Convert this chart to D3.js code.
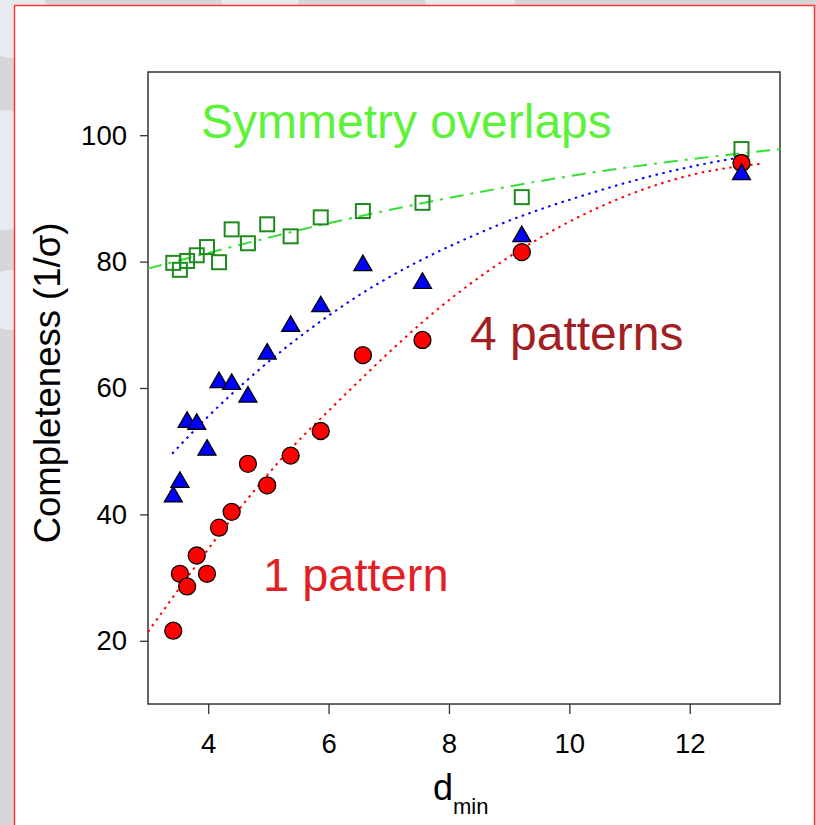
<!DOCTYPE html>
<html>
<head>
<meta charset="utf-8">
<script src="https://cdn.jsdelivr.net/npm/d3@7"></script>
<style>
  body { margin: 0; background: #d8d8d8; }
  svg { display: block; font-family: "Liberation Sans", Arial, sans-serif; }
</style>
</head>
<body>
<svg width="816" height="825"></svg>
<script>
// measured values
const dMin = [3.42, 3.53, 3.65, 3.81, 3.98, 4.18, 4.39, 4.66, 4.98, 5.37, 5.87, 6.57, 7.56, 9.21, 12.86];
const onePattern = [21.6, 30.6, 28.6, 33.5, 30.6, 37.9, 40.4, 48.0, 44.6, 49.3, 53.2, 65.2, 67.6, 81.5, 95.6];
const fourPatterns = [43.0, 45.3, 54.8, 54.5, 50.4, 61.1, 60.8, 58.8, 65.6, 70.0, 73.1, 79.6, 76.8, 84.2, 94.0];
const symOverlaps = [79.8, 78.7, 80.1, 81.0, 82.3, 79.9, 85.1, 82.9, 85.9, 84.0, 87.0, 88.0, 89.3, 90.2, 97.8];

// fitted curves
const redFitX = [3.0, 4.53, 5.19, 6.13, 8.04, 10.45, 12.16, 13.2];
const redFitY = [21.4, 41.0, 48.5, 57.6, 74.2, 88.4, 94.0, 95.5];
const blueFitX = [3.4, 4.0, 4.97, 6.3, 8.62, 10.45, 12.16, 12.85];
const blueFitY = [49.6, 55.5, 63.9, 73.4, 85.0, 91.1, 95.3, 96.5];
const greenFitX = [3.0, 4.22, 5.52, 8.23, 10.39, 13.5];
const greenFitY = [78.9, 81.9, 85.0, 90.5, 94.1, 97.8];

const xTicks = [4, 6, 8, 10, 12];
const yTicks = [20, 40, 60, 80, 100];

const svg = d3.select("svg");

// slide background
const bg = svg.append("g");
bg.append("rect").attr("width", 816).attr("height", 825).attr("fill", "#d6d6d6");
[[12, 20, 38], [5, 170, 60], [10, 300, 30], [260, -10, 40], [470, -20, 50], [360, -30, 30]].forEach(c => {
  bg.append("circle").attr("cx", c[0]).attr("cy", c[1]).attr("r", c[2]).attr("fill", "#e7eaee");
});
bg.append("rect")
  .attr("x", 14.5).attr("y", 5.5).attr("width", 800).attr("height", 840)
  .attr("fill", "#fff").attr("stroke", "#ff3a3a").attr("stroke-width", 1.5);

const x = d3.scaleLinear().domain([3, 13.5]).range([148, 780]);
const y = d3.scaleLinear().domain([10, 110]).range([704, 72]);

// frame
svg.append("rect")
  .attr("x", x(3)).attr("y", y(110))
  .attr("width", x(13.5) - x(3)).attr("height", y(10) - y(110))
  .attr("fill", "none").attr("stroke", "#333").attr("stroke-width", 1.5);

const xAxis = svg.append("g")
  .attr("transform", `translate(0,${y(10)})`)
  .call(d3.axisBottom(x).tickValues(xTicks).tickSize(10).tickPadding(19));
const yAxis = svg.append("g")
  .attr("transform", `translate(${x(3)},0)`)
  .call(d3.axisLeft(y).tickValues(yTicks).tickSize(8).tickPadding(13));
[xAxis, yAxis].forEach(a => {
  a.select(".domain").remove();
  a.selectAll("line").attr("stroke", "#333").attr("stroke-width", 1.3);
  a.selectAll("text").attr("font-size", 27.5).attr("fill", "#000")
    .attr("font-family", "'Liberation Sans', Arial, sans-serif");
});

// axis titles
svg.append("text")
  .attr("transform", `translate(60,383) rotate(-90)`)
  .attr("text-anchor", "middle")
  .attr("font-size", 36.5)
  .text("Completeness (1/σ)");

const xt = svg.append("text")
  .attr("x", 433).attr("y", 800)
  .attr("font-size", 36);
xt.append("tspan").text("d");
xt.append("tspan").attr("font-size", 22).attr("dy", 14).text("min");

// fit lines
const line = d3.line().x(d => x(d[0])).y(d => y(d[1])).curve(d3.curveMonotoneX);
const fits = [
  { xs: greenFitX, ys: greenFitY, color: "#33e033", dash: "14,7,3,7" },
  { xs: blueFitX, ys: blueFitY, color: "#0000ff", dash: "2.5,4.5" },
  { xs: redFitX, ys: redFitY, color: "#ff0000", dash: "2.5,4.5" }
];
fits.forEach(f => {
  svg.append("path")
    .datum(d3.zip(f.xs, f.ys))
    .attr("d", line)
    .attr("fill", "none")
    .attr("stroke", f.color)
    .attr("stroke-width", 2)
    .attr("stroke-dasharray", f.dash);
});

// markers
svg.append("g").selectAll("rect")
  .data(d3.zip(dMin, symOverlaps))
  .join("rect")
  .attr("x", d => x(d[0]) - 7).attr("y", d => y(d[1]) - 7)
  .attr("width", 14).attr("height", 14)
  .attr("fill", "none").attr("stroke", "#1f8a1f").attr("stroke-width", 2);

svg.append("g").selectAll("circle")
  .data(d3.zip(dMin, onePattern))
  .join("circle")
  .attr("cx", d => x(d[0])).attr("cy", d => y(d[1]))
  .attr("r", 8.5)
  .attr("fill", "#ff0000").attr("stroke", "#000").attr("stroke-width", 1.3);

svg.append("g").selectAll("path")
  .data(d3.zip(dMin, fourPatterns))
  .join("path")
  .attr("transform", d => `translate(${x(d[0])},${y(d[1])})`)
  .attr("d", "M0,-9L9,6.5L-9,6.5Z")
  .attr("fill", "#0000ff").attr("stroke", "#000").attr("stroke-width", 1.3);

// labels
svg.append("text").attr("x", 201).attr("y", 138).attr("font-size", 48)
  .attr("fill", "#5df23a").text("Symmetry overlaps");
svg.append("text").attr("x", 470).attr("y", 350).attr("font-size", 48)
  .attr("fill", "#a31e22").text("4 patterns");
svg.append("text").attr("x", 263).attr("y", 591).attr("font-size", 47)
  .attr("fill", "#e21f26").text("1 pattern");
</script>
</body>
</html>
